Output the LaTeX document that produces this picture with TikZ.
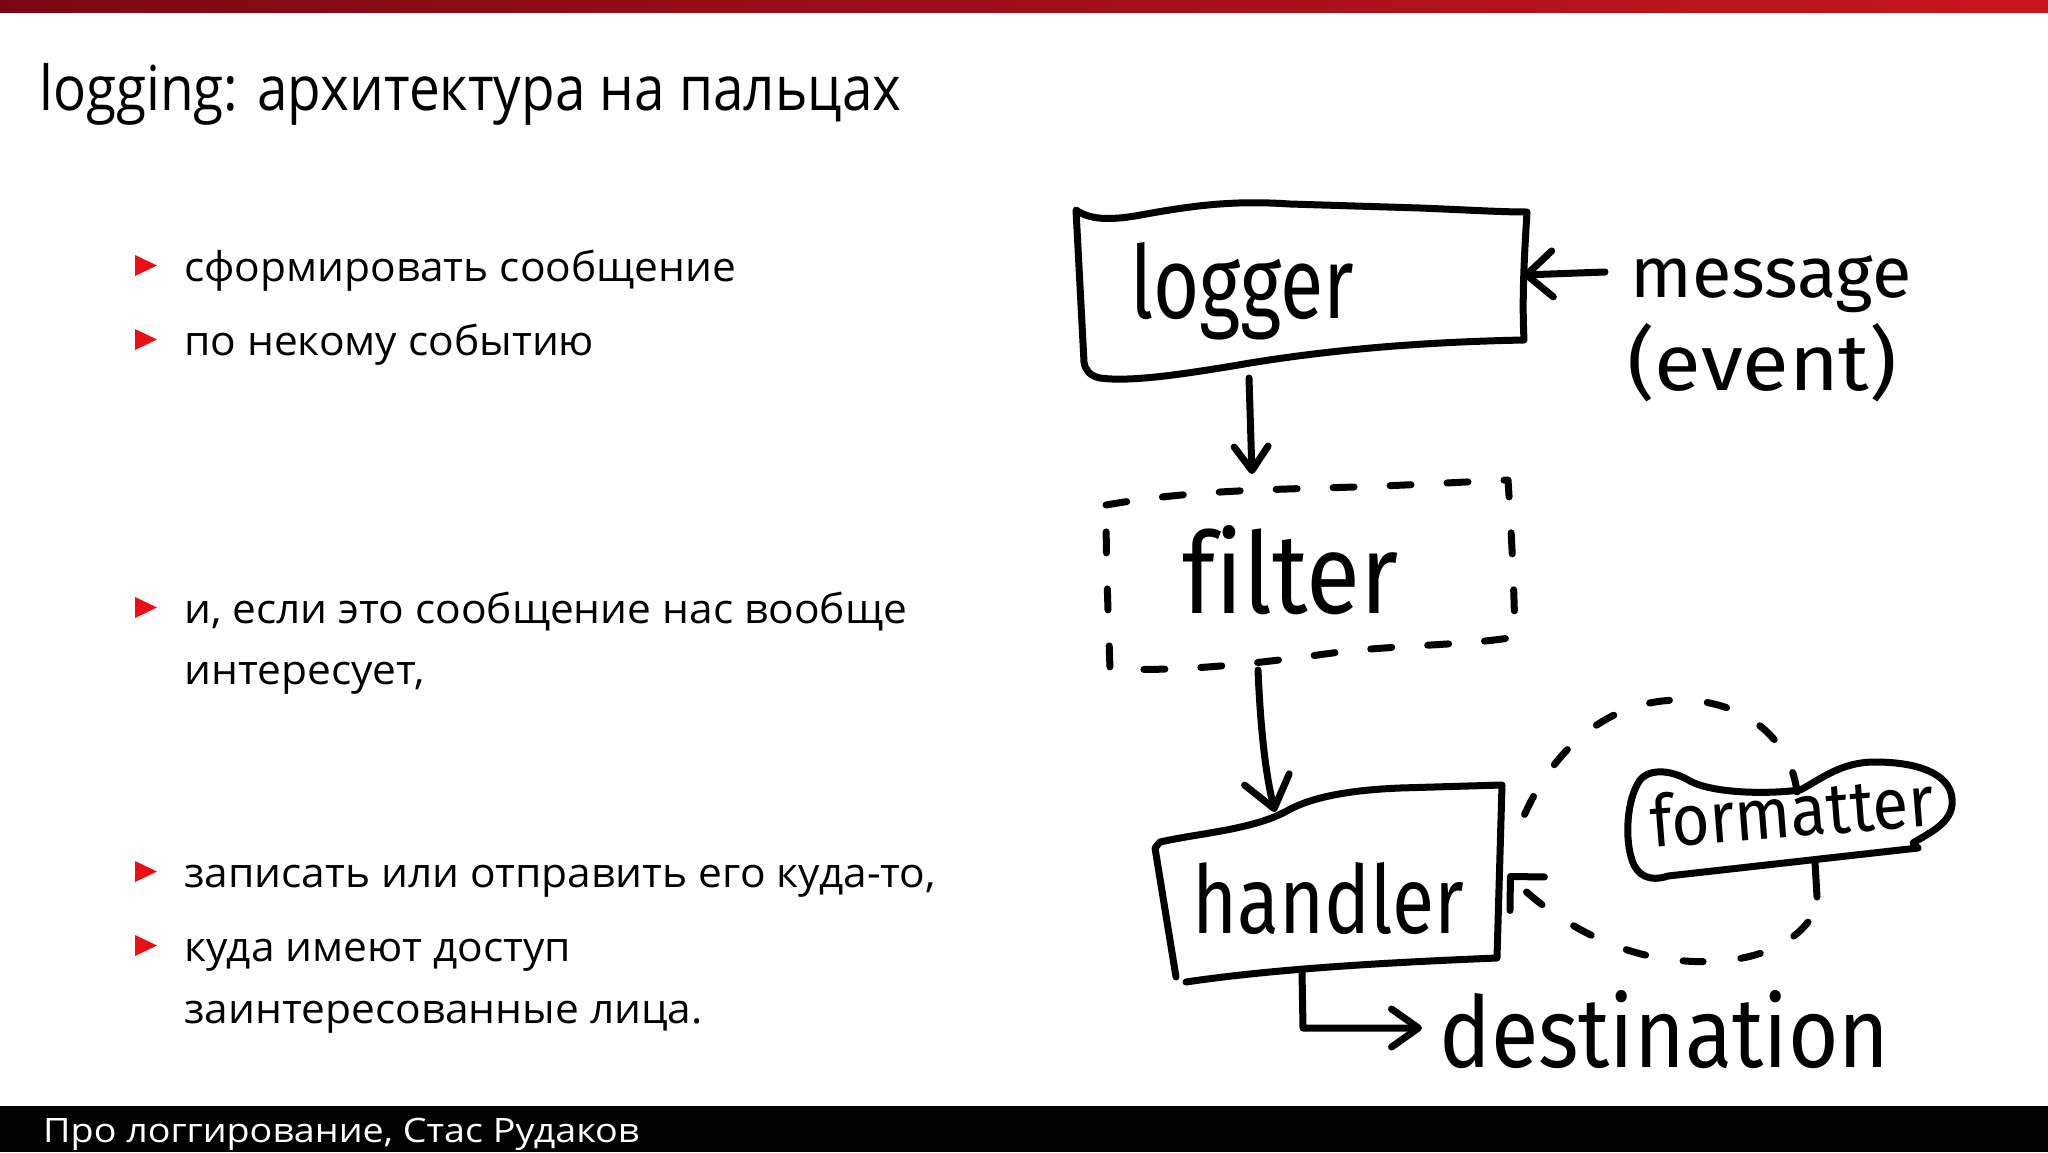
\documentclass[tikz,border=0pt]{standalone}
\usepackage{fontspec}
\usepackage{graphicx}
\setmainfont{Open Sans}
\newfontfamily\hwfont{Fira Sans}[Ligatures=NoCommon]
\usetikzlibrary{arrows.meta}
\definecolor{barleft}{RGB}{122,8,20}
\definecolor{barright}{RGB}{200,22,30}
\definecolor{bulletred}{RGB}{235,15,20}
\newlength\mylen
\newcommand\btxt[1]{\scalebox{\bsx}[1]{\fontsize{41}{48}\selectfont #1}}
\newcommand\hwtxt[3]{\resizebox{#1pt}{#2pt}{\hwfont #3}}
\tikzset{
  hw/.style={line width=7pt, line cap=round, line join=round, black},
  dashbox/.style={hw, dash pattern=on 21pt off 36pt},
  dashloop/.style={hw, dash pattern=on 20pt off 38pt},
  body/.style={anchor=base west, inner sep=0pt, text=black},
  hwlabel/.style={anchor=base west, inner sep=0pt},
}
\newcommand\bul[1]{\fill[bulletred] (135,#1-26) -- (157,#1-15.5) -- (135,#1-5) -- cycle;}
\begin{document}
\settowidth\mylen{\fontsize{62}{70}\selectfont logging: архитектура на пальцах}
\pgfmathsetmacro\tsx{862/\mylen}
\settowidth\mylen{\fontsize{41}{48}\selectfont сформировать сообщение}
\pgfmathsetmacro\bsx{552/\mylen}
\settowidth\mylen{\fontsize{33.6}{40}\selectfont Про логгирование, Стас Рудаков}
\pgfmathsetmacro\fsx{596/\mylen}
\begin{tikzpicture}[x=1pt,y=-1pt]
\useasboundingbox (0,0) rectangle (2048,1152);
\fill[white] (0,0) rectangle (2048,1152);
% top bar
\shade[left color=barleft, right color=barright] (0,0) rectangle (2048,12);
% title
\node[anchor=base west, inner sep=0pt] (title) at (39,110)
  {\scalebox{\tsx}[1]{\fontsize{62}{70}\selectfont logging: архитектура на пальцах}};
% bullets
\bul{281}\bul{355}\bul{623}\bul{887}\bul{961}
\node[body] (b1) at (184,281) {\btxt{сформировать сообщение}};
\node[body] (b2) at (184,355) {\btxt{по некому событию}};
\node[body] (b3) at (184,623) {\btxt{и, если это сообщение нас вообще}};
\node[body] (b3b) at (184,684) {\btxt{интересует,}};
\node[body] (b4) at (184,887) {\btxt{записать или отправить его куда-то,}};
\node[body] (b5) at (184,961) {\btxt{куда имеют доступ}};
\node[body] (b5b) at (184,1023) {\btxt{заинтересованные лица.}};
% footer
\fill[black] (0,1106) rectangle (2048,1152);
\node[anchor=base west, inner sep=0pt, text=white] (footer) at (43,1142)
  {\scalebox{\fsx}[1]{\fontsize{33.6}{40}\selectfont Про логгирование, Стас Рудаков}};

% ---------- diagram ----------
% logger box
\draw[hw] (1084,362) -- (1076,210) .. controls (1090,220) and (1110,220) .. (1135,216)
  .. controls (1190,206) and (1230,200) .. (1290,204) -- (1420,208)
  .. controls (1470,210) and (1500,212) .. (1527,212)
  .. controls (1524,260) and (1522,300) .. (1524,340)
  .. controls (1420,342) and (1330,350) .. (1250,363)
  .. controls (1180,375) and (1130,382) .. (1100,378)
  .. controls (1090,376) and (1085,370) .. (1084,362);
\node[hwlabel] (logger) at (1130,318) {\hwtxt{224}{76}{logger}};
\node[hwlabel] (message) at (1630,297) {\hwtxt{281}{42}{message}};
\node[hwlabel] (event) at (1627,390) {\hwtxt{270}{67}{(event)}};
\coordinate (msgW) at (1605,272);
\coordinate (logE) at (1523,275);
\draw[hw, -{Straight Barb[length=26pt,width=46pt,round]}] (msgW) -- (logE);

% filter box (dashed)
\draw[dashbox] (1106,505) .. controls (1180,492) and (1250,490) .. (1320,488)
  .. controls (1400,486) and (1460,482) .. (1508,480)
  .. controls (1512,540) and (1514,590) .. (1515,637)
  .. controls (1470,645) and (1400,645) .. (1340,652)
  .. controls (1280,660) and (1200,672) .. (1110,669)
  .. controls (1108,610) and (1106,560) .. (1106,505);
\node[hwlabel] (filter) at (1182,613) {\hwtxt{216}{88}{filter}};
\coordinate (logS) at (1249,378);
\coordinate (filN) at (1252,474);
\draw[hw, -{Straight Barb[length=24pt,width=34pt,round]}] (logS) -- (filN);

% handler box
\draw[hw] (1176,977) -- (1155,848) -- (1160,842)
  .. controls (1200,833) and (1250,830) .. (1285,812)
  .. controls (1310,797) and (1350,790) .. (1400,788) -- (1502,785)
  -- (1497,958) .. controls (1400,962) and (1280,968) .. (1186,982);
\node[hwlabel] (handler) at (1192,933) {\hwtxt{272}{71}{handler}};
\coordinate (filS) at (1258,670);
\coordinate (hanN) at (1275,812);
\draw[hw, -{Straight Barb[length=30pt,width=46pt,round]}] (filS) .. controls (1261,740) and (1267,780) .. (hanN);

% destination
\node[hwlabel] (destination) at (1439,1067) {\hwtxt{450}{77}{destination}};
\coordinate (hanS) at (1302,972);
\coordinate (destW) at (1422,1028);
\draw[hw, -{Straight Barb[length=27pt,width=38pt,round]}] (hanS) -- (1303,1028) -- (destW);

% formatter blob
\draw[hw] (1640,780) .. controls (1650,768) and (1672,770) .. (1690,781)
  .. controls (1710,792) and (1760,795) .. (1800,790)
  .. controls (1820,780) and (1840,762) .. (1875,762)
  .. controls (1920,762) and (1955,775) .. (1952,805)
  .. controls (1950,825) and (1925,835) .. (1913,843) -- (1918,848)
  -- (1668,876) .. controls (1650,882) and (1637,876) .. (1632,860)
  .. controls (1625,840) and (1626,800) .. (1640,780);
\node[hwlabel, rotate=4.5] (formatter) at (1652,848) {\hwtxt{284}{54}{formatter}};
% dashed loop formatter -> handler
\coordinate (fmtTop) at (1797,792);
\coordinate (fmtBot) at (1817,897);
\coordinate (hanE) at (1508,874);
\draw[dashloop] (fmtTop) .. controls (1790,735) and (1740,700) .. (1680,700)
  .. controls (1600,700) and (1540,760) .. (1513,845);
\draw[hw] (1815,862) -- (fmtBot);
\draw[dashloop, -{Straight Barb[length=24pt,width=48pt,round]}] (1808,922)
  .. controls (1780,958) and (1720,968) .. (1660,958)
  .. controls (1600,948) and (1545,912) .. (hanE);
\end{tikzpicture}
\end{document}
